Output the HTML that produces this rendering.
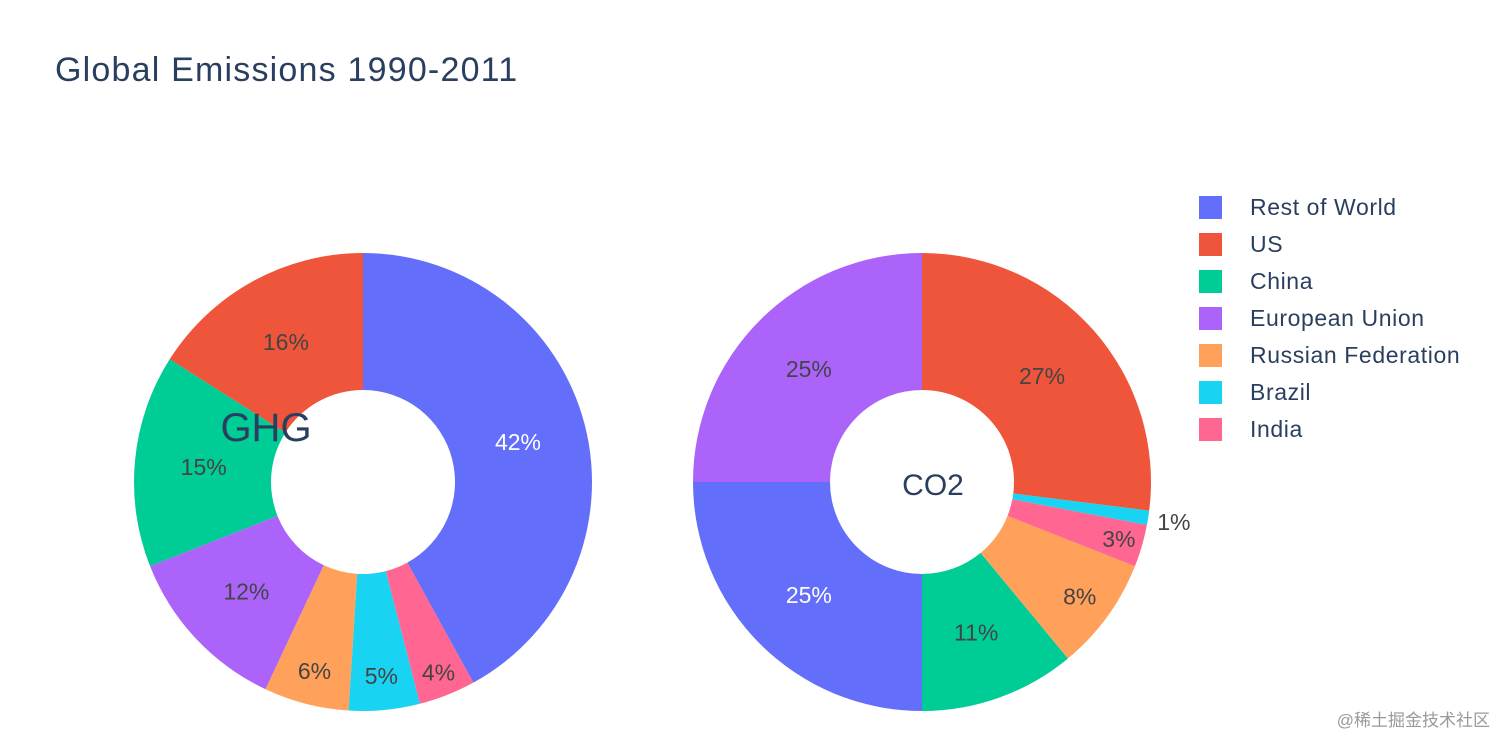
<!DOCTYPE html>
<html><head><meta charset="utf-8"><style>
body{margin:0;background:#fff;width:1512px;height:750px;overflow:hidden;font-family:"Liberation Sans","Noto Sans CJK SC",sans-serif}
</style></head><body>
<svg id="chart" width="1512" height="750" xmlns="http://www.w3.org/2000/svg">
<text x="55" y="81" font-size="34" letter-spacing="1.2" fill="#2a3f5f" font-family="Liberation Sans, sans-serif">Global Emissions 1990-2011</text>
<g id="pies"></g>
<g id="legend"></g>
<text x="1490" y="726" text-anchor="end" font-size="17" fill="#9a9a9a" font-family="Liberation Sans, Noto Sans CJK SC, sans-serif">@稀土掘金技术社区</text>
</svg>
<script>
const labels = ["US","China","European Union","Russian Federation","Brazil","India","Rest of World"];
const ghgValues = [16,15,12,6,5,4,42];
const co2Values = [27,11,25,8,1,3,25];
const legendOrder = ["Rest of World","US","China","European Union","Russian Federation","Brazil","India"];
const colorMap = {"Rest of World":"#636efa","US":"#EF553B","China":"#00cc96","European Union":"#ab63fa","Russian Federation":"#FFA15A","Brazil":"#19d3f3","India":"#FF6692"};
const NS="http://www.w3.org/2000/svg";
function mk(tag,attrs,parent){const e=document.createElementNS(NS,tag);for(const k in attrs)e.setAttribute(k,attrs[k]);parent.appendChild(e);return e;}
function pt(cx,cy,r,frac){const a=frac*2*Math.PI;return [cx-Math.sin(a)*r, cy-Math.cos(a)*r];}
function drawPie(values,cx,cy,name,titleSize,tx,ty){
  const g=document.getElementById('pies');
  const R=229,H=92;
  const total=values.reduce((a,b)=>a+b,0);
  const idx=values.map((v,i)=>i).sort((a,b)=>(values[b]-values[a])||(a-b));
  let cum=-values[idx[0]];
  idx.forEach(i=>{
    const f0=cum/total, f1=(cum+values[i])/total; cum+=values[i];
    const [x0,y0]=pt(cx,cy,R,f0),[x1,y1]=pt(cx,cy,R,f1),[h1x,h1y]=pt(cx,cy,H,f1),[h0x,h0y]=pt(cx,cy,H,f0);
    const large=(f1-f0)>0.5?1:0;
    const p=mk('path',{d:`M${x0},${y0} A${R},${R} 0 ${large} 0 ${x1},${y1} L${h1x},${h1y} A${H},${H} 0 ${large} 1 ${h0x},${h0y} Z`,fill:colorMap[labels[i]]},g);
    
    
    const pct=Math.round(values[i]/total*100);
    const r=pct>=10?160:pct>=5?195:pct>=2?205:255;
    const [lx,ly]=pt(cx,cy,r,(f0+f1)/2);
    const t=mk('text',{x:lx,y:ly+8,'text-anchor':'middle','font-size':23,fill:(labels[i]==='Rest of World')?'#fff':'#444'},g);
    t.textContent=pct+'%';
    
    
  });
  const tt=mk('text',{x:tx,y:ty,'text-anchor':'middle','font-size':titleSize,fill:'#2a3f5f'},g);
  tt.textContent=name;
  
  
}
drawPie(ghgValues,363,482,'GHG',40,266,441);
drawPie(co2Values,922,482,'CO2',30,933,495);
const lg=document.getElementById('legend');
legendOrder.forEach((n,k)=>{
  const y=207+k*37;
  const r=mk('rect',{x:1199,y:y-11,width:23,height:23,fill:colorMap[n]},lg);
  
  
  const t=mk('text',{x:1250,y:y+8,'font-size':23,'letter-spacing':0.6,fill:'#2a3f5f'},lg);
  t.textContent=n;
  
  
});
</script>
</body></html>
